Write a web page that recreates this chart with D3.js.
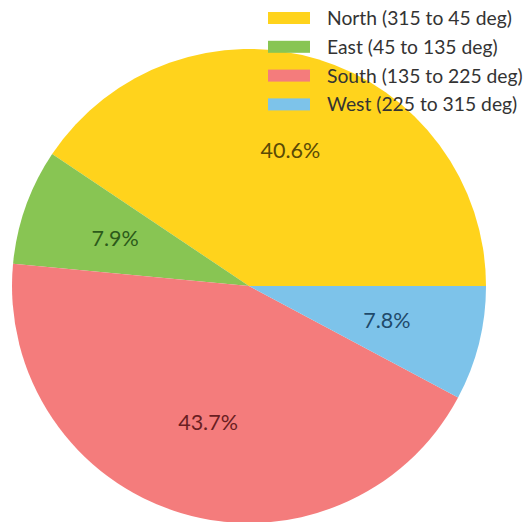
<!DOCTYPE html>
<html>
<head>
<meta charset="utf-8">
<script src="https://cdn.jsdelivr.net/npm/d3@7"></script>
<style>
  html, body { margin: 0; padding: 0; background: #fff; }
  svg { display: block; }
</style>
</head>
<body>
<svg id="chart" width="529" height="522"></svg>
<script>
const categories = ["North (315 to 45 deg)", "East (45 to 135 deg)", "South (135 to 225 deg)", "West (225 to 315 deg)"];
const values = [40.6, 7.9, 43.7, 7.8];
const sliceColors = ["#FFD31C", "#88C553", "#F47C7C", "#7DC3EA"];
const labelColors = ["#5A4A05", "#2C5A1A", "#6A1E22", "#1F4A6A"];

const svg = d3.select("#chart");
const cx = 249, cy = 286, r = 237;

const pie = d3.pie().sort(null).value(d => d)
  .startAngle(Math.PI / 2).endAngle(Math.PI / 2 - 2 * Math.PI);
const arcs = pie(values);
const arc = d3.arc().innerRadius(0).outerRadius(r);
const labelArc = d3.arc().innerRadius(r * 0.6).outerRadius(r * 0.6);

const g = svg.append("g").attr("transform", `translate(${cx},${cy})`);
g.selectAll("path").data(arcs).join("path")
  .attr("d", arc)
  .attr("fill", (d, i) => sliceColors[i]);

g.selectAll("text").data(arcs).join("text")
  .attr("transform", d => `translate(${labelArc.centroid(d)})`)
  .attr("text-anchor", "middle")
  .attr("dominant-baseline", "central")
  .attr("font-family", "Lato, sans-serif")
  .attr("font-size", 21.5)
  .attr("fill", (d, i) => labelColors[i])
  .text(d => d.data.toFixed(1) + "%");

const legend = svg.append("g").attr("transform", "translate(268,12)");
const rows = legend.selectAll("g").data(categories).join("g")
  .attr("transform", (d, i) => `translate(0,${i * 28.8})`);
rows.append("rect").attr("width", 42).attr("height", 12)
  .attr("fill", (d, i) => sliceColors[i]);
rows.append("text")
  .attr("x", 59).attr("y", 5.5)
  .attr("dominant-baseline", "central")
  .attr("font-family", "Lato, sans-serif")
  .attr("font-size", 19.3)
  .attr("fill", "#333")
  .text(d => d);
</script>
</body>
</html>
